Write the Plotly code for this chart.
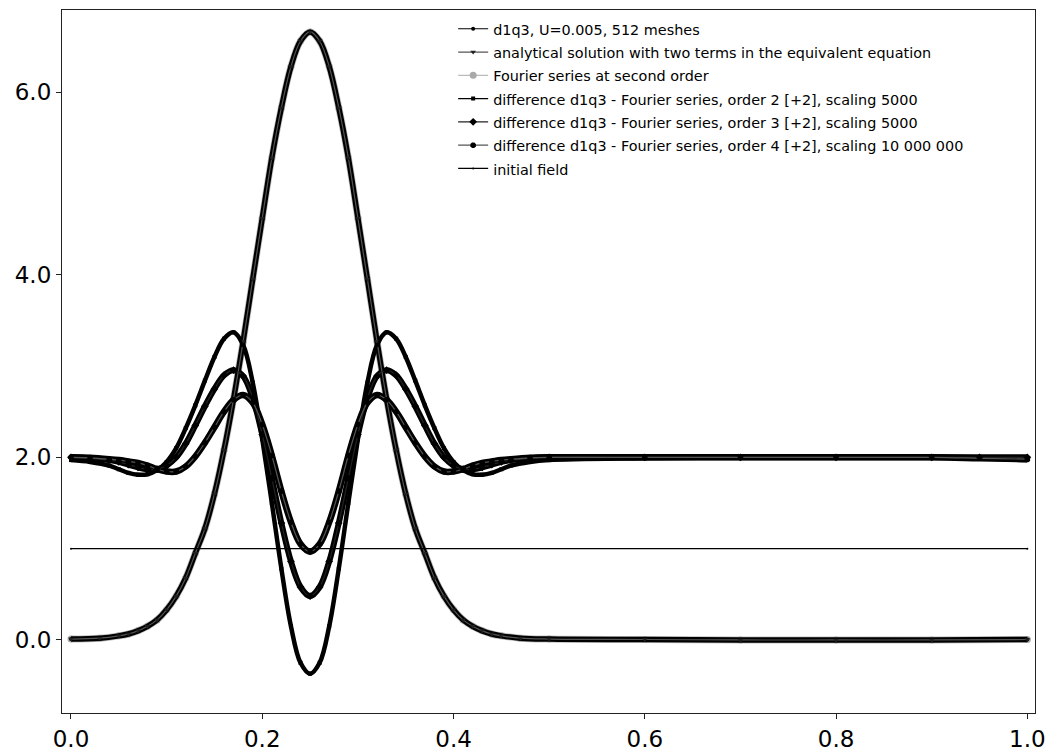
import plotly.graph_objects as go

# ---------------- data ----------------
# Gaussian-like profile (d1q3, analytical and Fourier series overlap)
x_profile = [0.00, 0.03, 0.05, 0.06, 0.07, 0.08, 0.09, 0.10, 0.11, 0.12, 0.13, 0.14,
             0.15, 0.16, 0.17, 0.18, 0.19, 0.20, 0.21, 0.22, 0.23, 0.24, 0.25,
             0.26, 0.27, 0.28, 0.29, 0.30, 0.31, 0.32, 0.33, 0.34, 0.35, 0.36, 0.37,
             0.38, 0.39, 0.40, 0.41, 0.42, 0.43, 0.44, 0.45, 0.47, 0.50, 0.60, 0.70,
             0.80, 0.90, 1.00]
d1q3 = [0.01, 0.02, 0.045, 0.065, 0.10, 0.15, 0.22, 0.33, 0.48, 0.68, 0.95, 1.22,
        1.60, 2.08, 2.64, 3.27, 3.95, 4.62, 5.28, 5.83, 6.28, 6.56, 6.66,
        6.56, 6.28, 5.83, 5.28, 4.62, 3.95, 3.27, 2.64, 2.08, 1.60, 1.22, 0.95,
        0.68, 0.48, 0.33, 0.22, 0.15, 0.10, 0.065, 0.045, 0.02, 0.01, 0.005, 0.0,
        0.0, 0.0, 0.005]
analytical = [0.01, 0.02, 0.045, 0.065, 0.10, 0.15, 0.22, 0.33, 0.48, 0.68, 0.95, 1.22,
              1.60, 2.08, 2.64, 3.27, 3.95, 4.62, 5.28, 5.83, 6.28, 6.56, 6.66,
              6.56, 6.28, 5.83, 5.28, 4.62, 3.95, 3.27, 2.64, 2.08, 1.60, 1.22, 0.95,
              0.68, 0.48, 0.33, 0.22, 0.15, 0.10, 0.065, 0.045, 0.02, 0.01, 0.005, 0.0,
              0.0, 0.0, 0.005]
fourier2 = [0.01, 0.02, 0.045, 0.065, 0.10, 0.15, 0.22, 0.33, 0.48, 0.68, 0.95, 1.22,
            1.60, 2.08, 2.64, 3.27, 3.95, 4.62, 5.28, 5.83, 6.28, 6.56, 6.66,
            6.56, 6.28, 5.83, 5.28, 4.62, 3.95, 3.27, 2.64, 2.08, 1.60, 1.22, 0.95,
            0.68, 0.48, 0.33, 0.22, 0.15, 0.10, 0.065, 0.045, 0.02, 0.01, 0.005, 0.0,
            0.0, 0.0, 0.005]

# Difference curves (shifted by +2)
x_diff = [0.00, 0.02, 0.04, 0.05, 0.06, 0.07, 0.08, 0.09, 0.10, 0.11, 0.12, 0.13,
          0.14, 0.15, 0.16, 0.17, 0.18, 0.19, 0.20, 0.21, 0.22, 0.23, 0.24, 0.25,
          0.26, 0.27, 0.28, 0.29, 0.30, 0.31, 0.32, 0.33, 0.34, 0.35, 0.36, 0.37,
          0.38, 0.39, 0.40, 0.41, 0.42, 0.43, 0.44, 0.45, 0.46, 0.48, 0.50,
          0.60, 0.70, 0.80, 0.90, 0.95, 1.00]
diff_order2 = [1.97, 1.95, 1.91, 1.87, 1.83, 1.81, 1.815, 1.86, 1.95, 2.10, 2.32, 2.57,
               2.84, 3.10, 3.30, 3.37, 3.23, 2.82, 2.20, 1.50, 0.78, 0.15, -0.25, -0.37,
               -0.25, 0.15, 0.78, 1.50, 2.20, 2.82, 3.23, 3.37, 3.30, 3.10, 2.84, 2.57,
               2.32, 2.10, 1.95, 1.86, 1.815, 1.81, 1.83, 1.87, 1.91, 1.95, 1.97,
               1.99, 2.00, 2.00, 2.00, 1.99, 1.97]
diff_order3 = [2.00, 1.99, 1.97, 1.95, 1.92, 1.89, 1.87, 1.87, 1.91, 2.00, 2.15, 2.35,
               2.56, 2.75, 2.90, 2.955, 2.89, 2.65, 2.25, 1.77, 1.28, 0.86, 0.58, 0.48,
               0.58, 0.86, 1.28, 1.77, 2.25, 2.65, 2.89, 2.955, 2.90, 2.75, 2.56, 2.35,
               2.15, 2.00, 1.91, 1.87, 1.87, 1.89, 1.92, 1.95, 1.97, 1.99, 2.00,
               2.00, 2.00, 2.00, 2.00, 2.00, 2.00]
diff_order4 = [2.00, 1.995, 1.98, 1.97, 1.955, 1.94, 1.91, 1.87, 1.845, 1.845, 1.90, 2.01,
               2.16, 2.33, 2.50, 2.63, 2.683, 2.60, 2.36, 2.02, 1.63, 1.29, 1.05, 0.967,
               1.05, 1.29, 1.63, 2.02, 2.36, 2.60, 2.683, 2.63, 2.50, 2.33, 2.16, 2.01,
               1.90, 1.845, 1.845, 1.87, 1.91, 1.94, 1.955, 1.97, 1.98, 1.995, 2.00,
               2.00, 2.00, 2.00, 2.00, 1.99, 1.98]

# Initial field
x_init = [0.0, 1.0]
init_field = [1.0, 1.0]

x_ticks = [0.0, 0.2, 0.4, 0.6, 0.8, 1.0]
y_ticks = [0.0, 2.0, 4.0, 6.0]

# ---------------- figure ----------------
fig = go.Figure()
LEG = '<span style="font-size:14.4px">{}</span>'


def band(x, y, color, width):
    # thick line imitating the dense chain of 512 markers (not in legend)
    fig.add_trace(go.Scatter(x=x, y=y, mode="lines",
                             line=dict(color=color, width=width, shape="spline", smoothing=1.0),
                             showlegend=False, hoverinfo="skip"))


def series(x, y, name, lc, sym, ms, mc, rank):
    fig.add_trace(go.Scatter(x=x, y=y, mode="lines+markers", name=LEG.format(name),
                             legendrank=rank,
                             line=dict(color=lc, width=1.2, shape="spline", smoothing=1.0),
                             marker=dict(symbol=sym, size=ms, color=mc, line=dict(width=0))))


# Fourier series (grey) drawn first, below the d1q3 / analytical markers
band(x_profile, fourier2, "rgba(175,175,175,0.8)", 7)
series(x_profile, fourier2, "Fourier series at second order", "#bbbbbb", "circle", 7, "#aaaaaa", 3)
band(x_profile, d1q3, "black", 5.5)
band(x_diff, diff_order2, "black", 4.5)
band(x_diff, diff_order3, "black", 6)
band(x_diff, diff_order4, "black", 6.5)

series(x_profile, d1q3, "d1q3, U=0.005, 512 meshes", "black", "circle", 4, "black", 1)
series(x_profile, analytical, "analytical solution with two terms in the equivalent equation",
       "#555555", "triangle-down", 5, "#222222", 2)
series(x_diff, diff_order2, "difference d1q3 - Fourier series, order 2 [+2], scaling 5000",
       "black", "square", 4, "black", 4)
series(x_diff, diff_order3, "difference d1q3 - Fourier series, order 3 [+2], scaling 5000",
       "#222222", "diamond", 6, "black", 5)
series(x_diff, diff_order4, "difference d1q3 - Fourier series, order 4 [+2], scaling 10 000 000",
       "#555555", "octagon", 6, "black", 6)
series(x_init, init_field, "initial field", "black", "circle", 2, "black", 7)

axis_common = dict(showline=True, linecolor="#222222", linewidth=1.2, mirror=True,
                   ticks="outside", ticklen=5, tickwidth=1, tickcolor="#222222",
                   showgrid=False, zeroline=False, automargin=False,
                   tickfont=dict(family="DejaVu Sans", size=23, color="black"))

fig.update_layout(
    width=1051, height=751,
    margin=dict(l=62, r=16, t=10, b=38),
    plot_bgcolor="white", paper_bgcolor="white",
    font=dict(family="DejaVu Sans", color="black"),
    xaxis=dict(range=[-0.0094, 1.0080], tickvals=x_ticks, tickformat=".1f", **axis_common),
    yaxis=dict(range=[-0.80, 6.90], tickvals=y_ticks, tickformat=".1f", **axis_common),
    legend=dict(x=0.402, y=0.997, xanchor="left", yanchor="top",
                bgcolor="rgba(255,255,255,0.8)", borderwidth=0,
                font=dict(family="DejaVu Sans", size=15.6, color="black"),
                itemwidth=30, tracegroupgap=0),
)

# remove the default 8px page margin so the 1051x751 figure fills the window exactly
fig.write_html("out.html",
               config={"displayModeBar": False},
               post_script="document.body.style.margin='0';document.body.style.overflow='hidden';")
